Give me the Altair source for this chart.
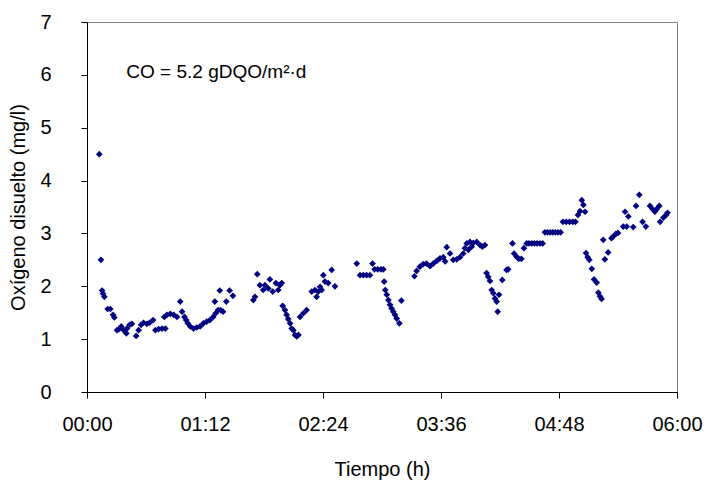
import altair as alt
import pandas as pd

# Time since start (minutes) and dissolved oxygen (mg/l)
minutes = [
    7.5, 8.5, 9.2, 9.8, 10.6, 12.6, 14.2, 15.9, 16.7, 18.3, 19.5, 20.9, 22.4, 24.0, 24.4,
    26.0, 27.4, 30.0, 31.5, 33.0, 34.5, 36.6, 38.2, 40.3, 41.7, 43.7, 45.8, 47.2, 47.8,
    48.8, 50.8, 52.9, 54.9, 56.9, 58.0, 59.5, 60.5, 61.5, 63.0, 65.0, 67.0, 69.0, 71.0,
    73.0, 75.0, 77.0, 78.0, 78.5, 80.0, 81.0, 81.5, 83.0, 85.0, 87.0, 89.0,
    101.5, 102.5, 103.9, 105.5, 107.5, 108.6, 110.6, 111.6, 113.3, 115.3, 116.7, 117.7,
    118.8, 119.4, 120.8, 121.8, 122.8, 123.9, 124.9, 125.9, 126.9, 128.0, 129.0, 130.0,
    132.0, 134.0, 137.1, 139.1, 140.1, 141.1, 142.2, 143.2, 144.2, 145.2, 147.2, 149.3,
    151.3,
    164.6, 166.6, 168.6, 170.6, 172.6, 174.2, 175.5, 177.4, 179.4, 180.8, 181.3, 182.0,
    182.9, 183.9, 184.9, 185.9, 186.9, 187.9, 189.0, 190.6, 191.8,
    199.8, 201.1, 203.1, 205.2, 207.2, 209.3, 211.3, 213.4, 215.4, 217.4, 218.5, 219.5,
    221.5, 223.5, 225.6, 227.6, 229.6, 230.6, 231.7, 232.7, 233.7, 234.7, 235.7, 237.8,
    239.8, 241.2, 242.8, 243.8, 244.8, 245.9, 246.9, 247.9, 248.9, 250.0, 250.6, 251.4,
    253.4, 256.0, 257.0, 259.6, 260.6, 262.1, 263.4, 265.0, 266.6, 268.3, 269.7, 271.4,
    273.0, 274.6, 276.4, 278.0, 279.4, 281.0, 282.6, 284.2, 285.8, 287.4, 289.0, 290.4,
    292.4, 294.4, 296.4, 298.0, 299.6, 300.8, 301.9, 302.9, 303.9, 304.5, 305.5, 306.5,
    308.0, 309.4, 311.0, 312.0, 313.0, 314.0,
    315.0, 316.0, 318.0, 320.0, 321.0, 322.7, 324.0, 327.2, 328.3, 329.3, 330.3, 333.3,
    335.0, 337.0, 339.0, 341.0, 343.5, 345.1, 346.5, 347.6, 349.2, 349.7, 351.7, 353.4,
    354.2,
]
oxygen = [
    4.50, 2.50, 1.92, 1.86, 1.80, 1.57, 1.57, 1.46, 1.41, 1.17, 1.19, 1.24, 1.17, 1.11, 1.20,
    1.27, 1.29, 1.06, 1.17, 1.27, 1.31, 1.29, 1.31, 1.36, 1.17, 1.19, 1.20, 1.42, 1.20,
    1.46, 1.48, 1.46, 1.42, 1.71, 1.52, 1.42, 1.36, 1.30, 1.24, 1.20, 1.22, 1.24, 1.30,
    1.33, 1.36, 1.42, 1.71, 1.49, 1.55, 1.92, 1.55, 1.52, 1.71, 1.92, 1.82,
    1.74, 1.80, 2.23, 2.02, 1.93, 2.02, 1.96, 2.13, 1.90, 2.06, 1.93, 2.02,
    2.06, 1.63, 1.55, 1.46, 1.38, 1.30, 1.20, 1.17, 1.08, 1.05, 1.08, 1.42,
    1.49, 1.55, 1.90, 1.93, 1.80, 1.90, 1.99, 1.93, 2.21, 2.09, 2.06, 2.31,
    2.00,
    2.43, 2.21, 2.21, 2.21, 2.21, 2.43, 2.32, 2.32, 2.32, 2.32, 2.09, 1.93,
    1.84, 1.74, 1.65, 1.58, 1.52, 1.46, 1.39, 1.30, 1.73,
    2.19, 2.29, 2.37, 2.42, 2.43, 2.38, 2.43, 2.48, 2.53, 2.55, 2.47, 2.74,
    2.62, 2.50, 2.51, 2.55, 2.62, 2.72, 2.81, 2.69, 2.84, 2.75, 2.82, 2.84,
    2.78, 2.75, 2.78, 2.25, 2.18, 2.10, 1.93, 1.87, 1.77, 1.71, 1.52, 1.84,
    2.12, 2.31, 2.32, 2.81, 2.62, 2.56, 2.52, 2.52, 2.72, 2.81, 2.81, 2.81,
    2.81, 2.81, 2.81, 2.81, 3.02, 3.02, 3.02, 3.02, 3.02, 3.02, 3.02, 3.22,
    3.22, 3.22, 3.22, 3.22, 3.35, 3.42, 3.63, 3.54, 3.41, 2.63, 2.55, 2.50,
    2.33, 2.13, 2.07, 1.88, 1.81, 1.76,
    2.88, 2.51, 2.64, 2.91, 2.94, 2.99, 3.01, 3.13, 3.41, 3.13, 3.32, 3.12,
    3.52, 3.73, 3.22, 3.13, 3.52, 3.46, 3.41, 3.46, 3.52, 3.22, 3.30, 3.35,
    3.39,
]

x_ticks = [0, 72, 144, 216, 288, 360]
y_ticks = [0, 1, 2, 3, 4, 5, 6, 7]

annotation_text = ["CO = 5.2 gDQO/m²·d"]
annotation_x = [24]
annotation_y = [6.05]

df = pd.DataFrame({"t": minutes, "od": oxygen})
ann = pd.DataFrame({"t": annotation_x, "od": annotation_y, "label": annotation_text})

FONT = "Liberation Sans"

label_expr = (
    "(floor(datum.value/60) < 10 ? '0' : '') + floor(datum.value/60) + ':' + "
    "((datum.value % 60) < 10 ? '0' : '') + (datum.value % 60)"
)

common = dict(
    grid=False,
    domainColor="black",
    tickColor="black",
    tickSize=6,
    labelFontSize=20,
    titleFontSize=20,
    labelFont=FONT,
    titleFont=FONT,
    labelColor="black",
    titleColor="black",
    titleFontWeight="normal",
    labelFlush=False,
    labelOverlap=False,
)

x_enc = alt.X(
    "t:Q",
    scale=alt.Scale(domain=[0, 360], nice=False),
    axis=alt.Axis(
        title="Tiempo (h)",
        values=x_ticks,
        labelExpr=label_expr,
        labelPadding=16,
        titlePadding=25,
        **common,
    ),
)
y_enc = alt.Y(
    "od:Q",
    scale=alt.Scale(domain=[0, 7], nice=False),
    axis=alt.Axis(
        title="Oxígeno disuelto (mg/l)",
        values=y_ticks,
        format="d",
        labelPadding=30,
        titlePadding=11,
        **common,
    ),
)

points = alt.Chart(df).mark_point(
    shape="diamond", filled=True, color="#000080", size=45, opacity=1
).encode(x=x_enc, y=y_enc)

note = alt.Chart(ann).mark_text(
    align="left", baseline="middle", font=FONT, fontSize=19, color="black"
).encode(x="t:Q", y="od:Q", text="label:N")

chart = (
    alt.layer(points, note)
    .properties(
        width=590,
        height=370,
        autosize=alt.AutoSizeParams(type="none"),
        padding={"left": 87, "top": 22, "right": 40, "bottom": 88},
        background="white",
    )
    .configure_view(stroke="#808080", strokeWidth=1)
)

chart.save("out.html", embed_options={"renderer": "svg", "actions": False})
